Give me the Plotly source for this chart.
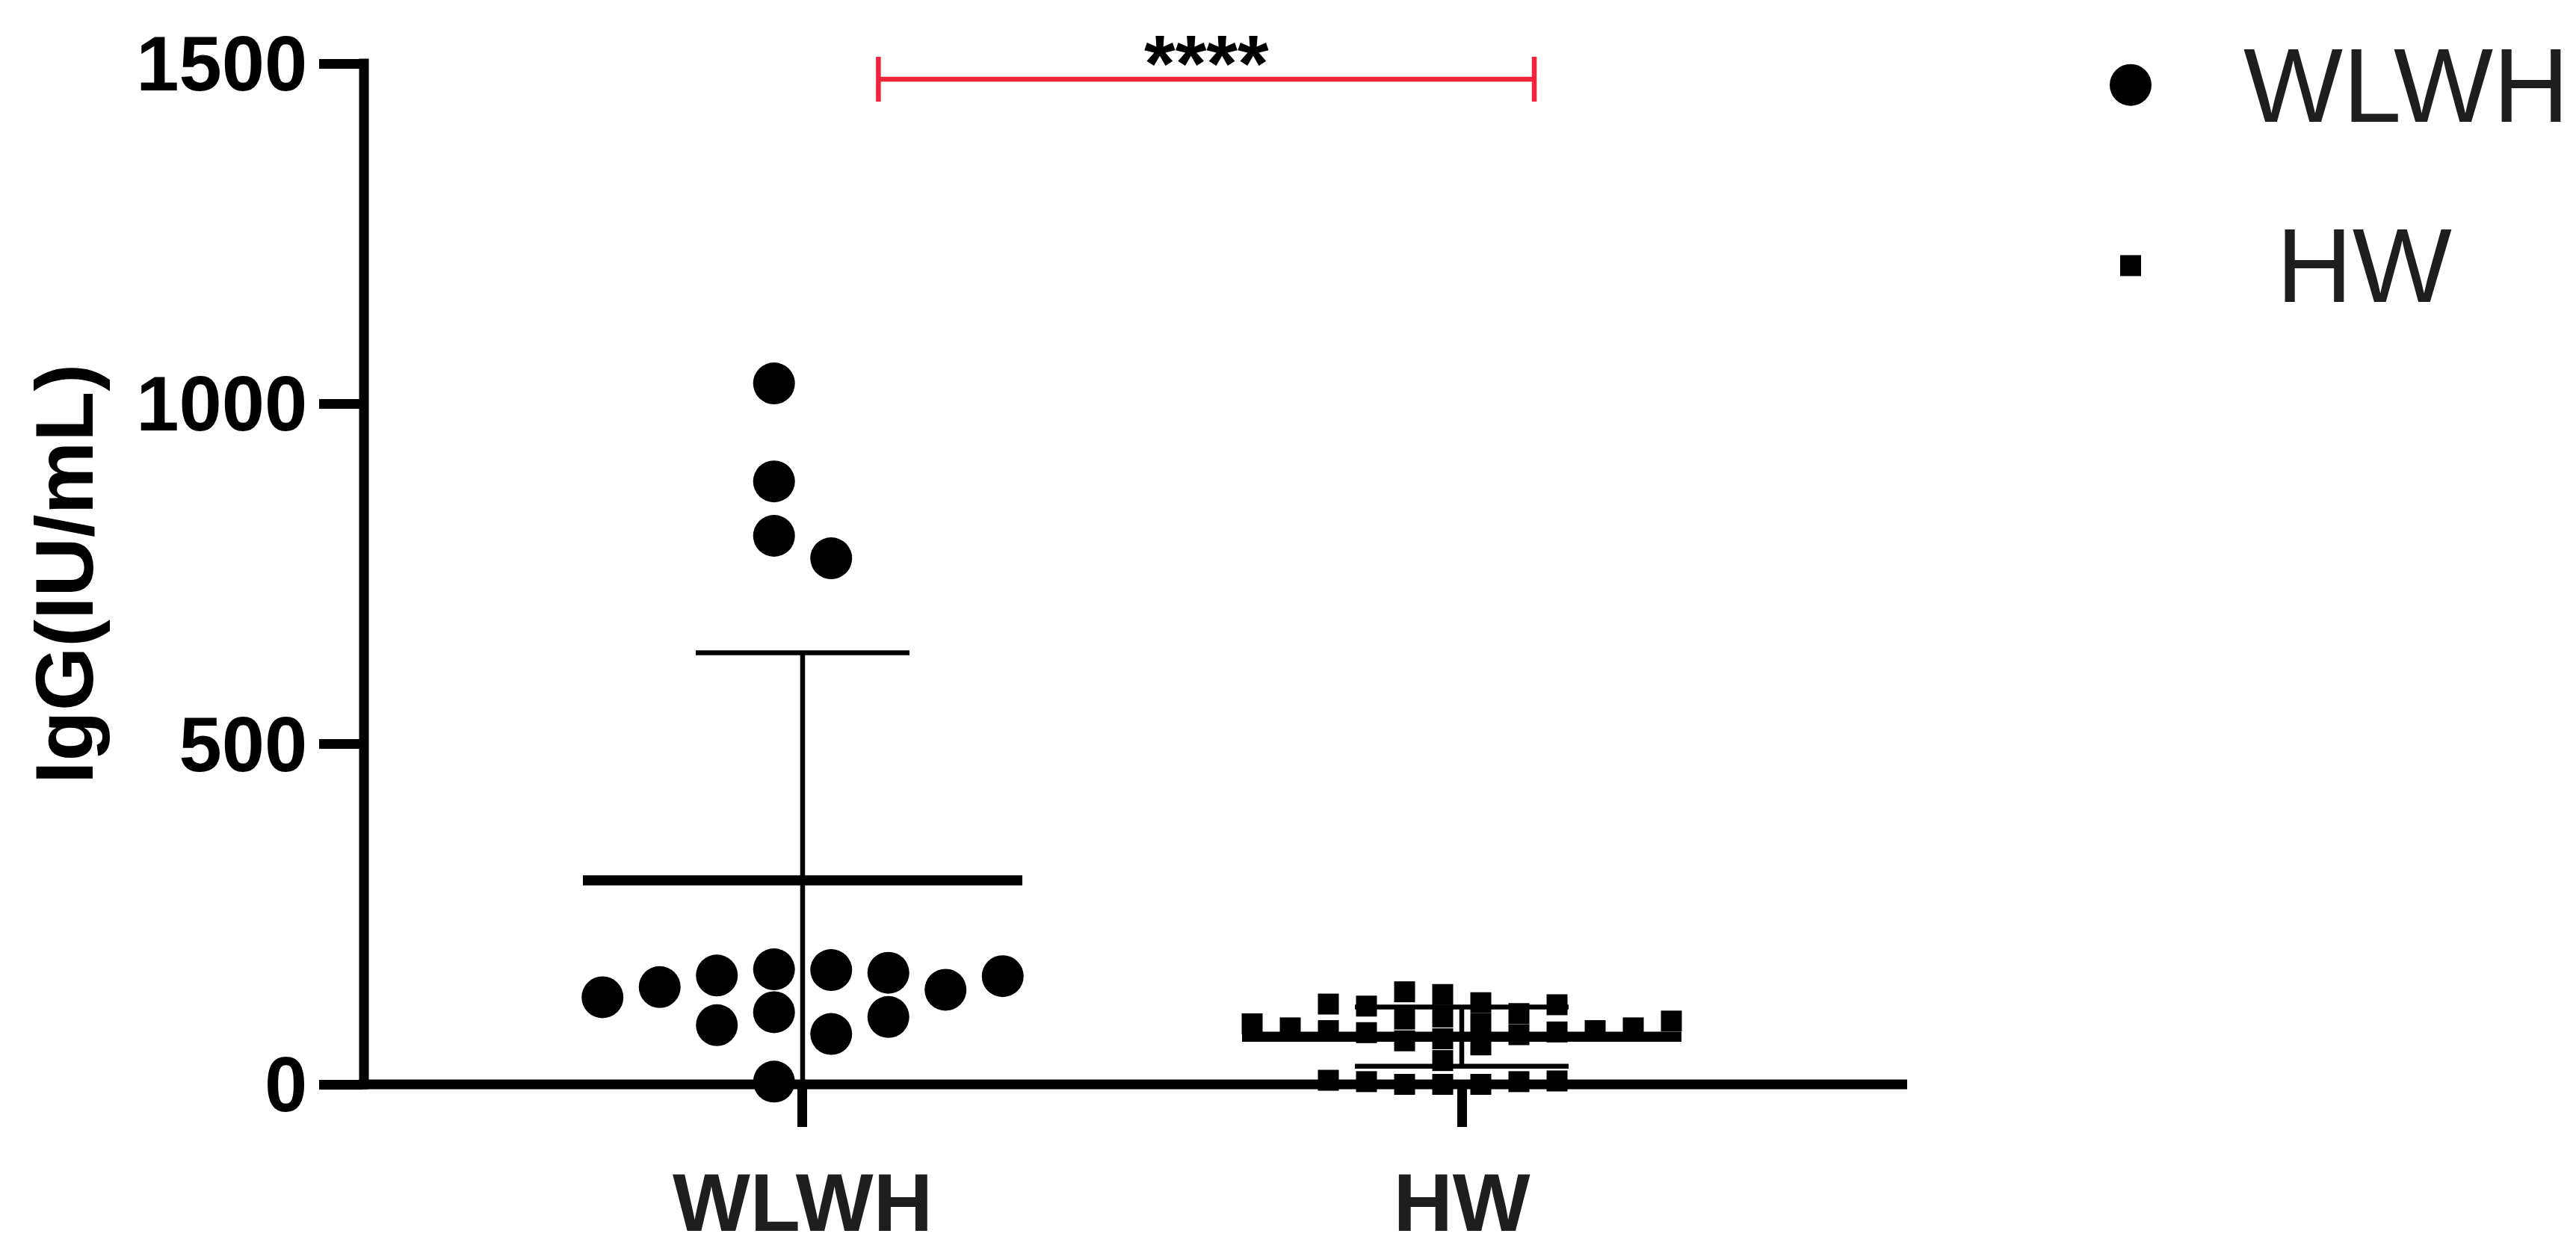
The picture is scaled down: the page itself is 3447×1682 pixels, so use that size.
"""
IgG (IU/mL) en WLWH frente a HW: puntos individuales, media ± DE y
corchete de significación. Se guarda en out.html.
"""
import numpy as np
import plotly.graph_objects as go

# =============================================================================
# DATOS
# =============================================================================
GROUPS = ["WLWH", "HW"]

WLWH_IGG = [128, 143, 160, 169, 168, 164, 139, 159,
            87, 106, 74, 99, 4,
            1030, 886, 806, 773]

HW_IGG = [93, 58, 115, 79, 89, 35, 0, 120, 76, 89, 5,
          136, 104, 73, 6, 117, 79, 0, 132, 77, 4,
          118, 83, 0, 83, 4, 96, 64, 99, 67]

Y_TICKS = [0, 500, 1000, 1500]
Y_TITLE = "IgG(IU/mL)"
SIGNIFICANCE = "****"

# =============================================================================
# ESTILO / GEOMETRÍA
# =============================================================================
W, H = 3447, 1682
MARGIN = dict(l=487, r=895, t=85, b=218)
X_RANGE = [-0.6655, 1.6757]
Y_RANGE = [0, 1500]
PLOT_W = W - MARGIN["l"] - MARGIN["r"]
PLOT_H = H - MARGIN["t"] - MARGIN["b"]
PX_X = PLOT_W / (X_RANGE[1] - X_RANGE[0])
PX_Y = PLOT_H / (Y_RANGE[1] - Y_RANGE[0])

FONT = "Liberation Sans, Arial, sans-serif"
TEXT_GREY = "#1e1e1e"
RED = "#f0243a"
AXIS_W = 13

# layout: "rows" = filas centradas, "swarm" = columna libre más cercana al centro
STYLE = {
    "WLWH": dict(symbol="circle", size=56, step=76.5, layout="rows"),
    "HW": dict(symbol="square", size=28, step=51, layout="swarm"),
}
ROW_FRAC = 0.8          # alto de fila respecto al símbolo
MEAN_HALF_PX = 294
SD_CAP_PX = 143
BRACKET_X = [0.115, 1.11]
BRACKET_Y = 1477


def px_to_paper_x(px):
    return (px - MARGIN["l"]) / PLOT_W


def px_to_paper_y(py):
    return 1 - (py - MARGIN["t"]) / PLOT_H


def data_to_paper_x(x):
    return (x - X_RANGE[0]) / (X_RANGE[1] - X_RANGE[0])


def _free(placed, col, y, size_px):
    return all(abs(y - yy) >= size_px for yy in placed.get(col, []))


def _nearest_free(placed, target, y, size_px, used=()):
    cands = [k + 0.5 for k in range(-40, 40)]
    cands.sort(key=lambda c: (abs(c - target), abs(c)))
    for c in cands:
        if c not in used and _free(placed, c, y, size_px):
            return c
    return target


def column_slots(values, size_px, layout):
    # columnas a medio paso del centro; devuelve el índice de columna de cada punto
    values = np.asarray(values, dtype=float)
    cols = np.zeros(len(values))
    placed = {}
    order = np.argsort(values, kind="stable")
    if layout == "swarm":
        for i in order:
            y = values[i] * PX_Y
            c = _nearest_free(placed, -0.5, y, size_px)
            placed.setdefault(c, []).append(y)
            cols[i] = c
        return cols
    # filas (de abajo arriba) y cada fila centrada, en el orden de los datos
    row_h = ROW_FRAC * size_px / PX_Y
    rows, start = [], None
    for i in order:
        if start is None or values[i] - start >= row_h:
            rows.append([])
            start = values[i]
        rows[-1].append(i)
    for idx in rows:
        idx = sorted(idx)
        n = len(idx)
        first = -n / 2 + (0.5 if n % 2 == 0 else 0)
        used = set()
        for k, i in enumerate(idx):
            y = values[i] * PX_Y
            c = first + k
            if c in used or not _free(placed, c, y, size_px):
                c = _nearest_free(placed, c, y, size_px, used)
            used.add(c)
            placed.setdefault(c, []).append(y)
            cols[i] = c
    return cols


# =============================================================================
# FIGURA
# =============================================================================
fig = go.Figure()

for i, (name, vals) in enumerate(zip(GROUPS, [WLWH_IGG, HW_IGG])):
    vals = np.array(vals, dtype=float)
    st = STYLE[name]
    mean = vals.mean()
    sd = vals.std(ddof=1)
    x = i + column_slots(vals, st["size"], st["layout"]) * st["step"] / PX_X

    fig.add_scatter(
        x=x, y=vals, mode="markers", cliponaxis=False, showlegend=False,
        marker=dict(symbol=st["symbol"], size=st["size"], color="black", line_width=0),
    )
    fig.add_scatter(
        x=[i - MEAN_HALF_PX / PX_X, i + MEAN_HALF_PX / PX_X], y=[mean, mean],
        mode="lines", line=dict(color="black", width=13.5), showlegend=False,
    )
    fig.add_scatter(
        x=[i], y=[mean], mode="markers", cliponaxis=False, showlegend=False,
        marker=dict(size=1, color="rgba(0,0,0,0)"),
        error_y=dict(type="data", symmetric=False, array=[sd], arrayminus=[min(sd, mean)],
                     thickness=6.5, width=SD_CAP_PX, color="black"),
    )

# ejes dibujados a mano para que la línea quede centrada en el borde
ext_x = (AXIS_W / 2) / PLOT_W
ext_y = (AXIS_W / 2) / PLOT_H
shapes = [
    dict(type="line", xref="paper", yref="paper", x0=0, x1=0, y0=-ext_y, y1=1 + ext_y,
         line=dict(color="black", width=AXIS_W), layer="above"),
    dict(type="line", xref="paper", yref="paper", x0=-ext_x, x1=1, y0=0, y1=0,
         line=dict(color="black", width=AXIS_W), layer="above"),
]

# corchete de significación
bx0, bx1 = data_to_paper_x(BRACKET_X[0]), data_to_paper_x(BRACKET_X[1])
by = BRACKET_Y / Y_RANGE[1]
shapes.append(dict(type="line", xref="paper", yref="paper", x0=bx0, x1=bx1, y0=by, y1=by,
                   line=dict(color=RED, width=6.5)))
for bx in (bx0, bx1):
    shapes.append(dict(type="line", xref="paper", yref="paper", ysizemode="pixel",
                       yanchor=by, x0=bx, x1=bx, y0=-30, y1=30,
                       line=dict(color=RED, width=6.5)))

# leyenda manual (símbolos al tamaño real de los puntos)
LEG_X = 2851
LEG_ROWS = [("WLWH", 114, 3000), ("HW", 358, 3044)]
annotations = []
for name, py, tx in LEG_ROWS:
    st = STYLE[name]
    r = st["size"] / 2
    shapes.append(dict(type="circle" if st["symbol"] == "circle" else "rect",
                       xref="paper", yref="paper", xsizemode="pixel", ysizemode="pixel",
                       xanchor=px_to_paper_x(LEG_X), yanchor=px_to_paper_y(py),
                       x0=-r, x1=r, y0=-r, y1=r, fillcolor="black", line_width=0))
    annotations.append(dict(text=name, xref="paper", yref="paper", showarrow=False,
                            x=px_to_paper_x(tx), y=px_to_paper_y(py),
                            xanchor="left", yanchor="middle",
                            font=dict(family=FONT, size=141, color=TEXT_GREY)))

annotations.append(dict(text=SIGNIFICANCE, xref="paper", yref="paper", showarrow=False,
                        x=(bx0 + bx1) / 2, y=px_to_paper_y(85), xanchor="center", yanchor="middle",
                        font=dict(family=FONT, size=107, color="black", weight="bold")))
annotations.append(dict(text=Y_TITLE, xref="paper", yref="paper", showarrow=False,
                        x=px_to_paper_x(85), y=0.5, xanchor="center", yanchor="middle",
                        textangle=-90,
                        font=dict(family=FONT, size=110, color="black", weight="bold")))

fig.update_layout(
    width=W, height=H, margin=dict(MARGIN, pad=0),
    paper_bgcolor="white", plot_bgcolor="white",
    showlegend=False,
    shapes=shapes, annotations=annotations,
    xaxis=dict(range=X_RANGE, tickvals=[0, 1], ticktext=GROUPS,
               showgrid=False, zeroline=False, showline=False,
               ticks="outside", ticklen=56, tickwidth=AXIS_W, tickcolor="black",
               ticklabelstandoff=7,
               tickfont=dict(family=FONT, size=110, color=TEXT_GREY, weight="bold")),
    yaxis=dict(range=Y_RANGE, tickvals=Y_TICKS,
               showgrid=False, zeroline=False, showline=False,
               ticks="outside", ticklen=59, tickwidth=AXIS_W, tickcolor="black",
               ticklabelstandoff=-5,
               tickfont=dict(family=FONT, size=103, color="black", weight="bold")),
)

fig.write_html("out.html", config={"displayModeBar": False},
               post_script="document.body.style.margin='0px';")
